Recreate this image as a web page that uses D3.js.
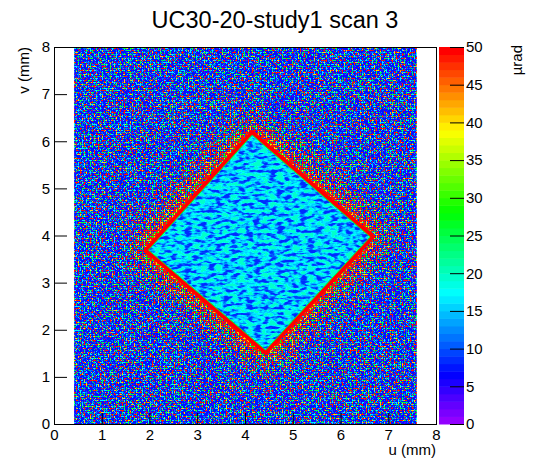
<!DOCTYPE html>
<html>
<head>
<meta charset="utf-8">
<script src="https://cdn.jsdelivr.net/npm/d3@7"></script>
<style>
    body { margin: 0; background: #fff; }
    text { font-family: "Liberation Sans", Arial, Helvetica, sans-serif; fill: #000; }
</style>
</head>
<body>
<svg id="chart" width="546" height="472"></svg>
<script>
// values
var title = 'UC30-20-study1 scan 3';
var uRange = [0, 8],
    vRange = [0, 8],
    zRange = [0, 50];
var uTicks = [0, 1, 2, 3, 4, 5, 6, 7, 8];
var vTicks = [0, 1, 2, 3, 4, 5, 6, 7, 8];
var zTicks = [0, 5, 10, 15, 20, 25, 30, 35, 40, 45, 50];
var nContours = 50;

// active sensor area (mm)
var sensorU = [0.42, 7.6],
    sensorV = [0, 8];

// diamond window corners (mm): top, right, bottom, left
var diamondU = [4.15, 6.62, 4.43, 1.98];
var diamondV = [6.13, 3.97, 1.57, 3.69];

// typical values in each region (µrad)
var backgroundLevel = 7;
var backgroundSpeckle = [3, 11, 16, 25, 40, 48];
var interiorLevels = [8, 9, 10, 12, 14, 15, 16, 17, 19];
var haloLevels = [48, 28, 40];
var rimLevel = 49,
    edgeLevel = 26;

var W = 546, H = 472,
    frame = { left: 54, right: 436, top: 47, bottom: 424 },
    bar = { left: 439, right: 464 };

var svg = d3.select('#chart');

var x = d3.scaleLinear().domain(uRange).range([frame.left, frame.right]),
    y = d3.scaleLinear().domain(vRange).range([frame.bottom, frame.top]),
    z = d3.scaleLinear().domain(zRange).range([frame.bottom, frame.top]);

// ROOT "pretty" palette: 50 hues from violet to red
function paletteColor(value) {
    var i = Math.floor((value - zRange[0]) / (zRange[1] - zRange[0]) * nContours);
    i = Math.max(0, Math.min(nContours - 1, i));
    return d3.hsl(280 - (i + 1) * 280 / nContours, 1, 0.5).rgb();
}

function rgbRow(c) {
    return [(c.r / 255).toFixed(3), (c.g / 255).toFixed(3), (c.b / 255).toFixed(3)];
}

// colour matrix that paints colour c where channel ch of the input is above cut
function thresholdMatrix(c, ch, cut) {
    var v = rgbRow(c),
        K = 40,
        a = [0, 0, 0];
    a[ch] = K;
    return '0 0 0 0 ' + v[0] + ' 0 0 0 0 ' + v[1] + ' 0 0 0 0 ' + v[2] + ' ' +
        a.join(' ') + ' 0 ' + (-K * cut).toFixed(3);
}

var opaque = '1 0 0 0 0 0 1 0 0 0 0 0 1 0 0 0 0 0 0 1';
var defs = svg.append('defs');

var sensorBox = {
    x: x(sensorU[0]),
    y: y(sensorV[1]),
    w: x(sensorU[1]) - x(sensorU[0]),
    h: y(sensorV[0]) - y(sensorV[1])
};
defs.append('clipPath').attr('id', 'sensorClip')
    .append('rect')
    .attr('x', sensorBox.x).attr('y', sensorBox.y)
    .attr('width', sensorBox.w).attr('height', sensorBox.h);

// speckle texture of the background (style only)
var bgCover = [0.6, 0.6, 0.61, 0.64, 0.69, 0.625];
var bgF = defs.append('filter').attr('id', 'bgSpeckle')
    .attr('x', 0).attr('y', 0).attr('width', 1).attr('height', 1)
    .attr('color-interpolation-filters', 'sRGB');
bgF.append('feTurbulence').attr('type', 'fractalNoise').attr('baseFrequency', 0.5)
    .attr('numOctaves', 1).attr('seed', 7).attr('result', 'nA');
bgF.append('feTurbulence').attr('type', 'fractalNoise').attr('baseFrequency', 0.5)
    .attr('numOctaves', 1).attr('seed', 23).attr('result', 'nB');
['nA', 'nB'].forEach(function(n) {
    bgF.append('feColorMatrix').attr('in', n).attr('type', 'matrix')
        .attr('values', opaque).attr('result', 'o' + n);
});
backgroundSpeckle.forEach(function(level, k) {
    bgF.append('feColorMatrix').attr('in', k < 3 ? 'onA' : 'onB').attr('type', 'matrix')
        .attr('values', thresholdMatrix(paletteColor(level), k % 3, bgCover[k]))
        .attr('result', 's' + k);
});
var bgMerge = bgF.append('feMerge');
bgMerge.append('feMergeNode').attr('in', 'SourceGraphic');
[0, 1, 2, 3, 5, 4].forEach(function(k) { bgMerge.append('feMergeNode').attr('in', 's' + k); });
bgF.append('feComposite').attr('in2', 'SourceGraphic').attr('operator', 'in');

// blobby texture inside the diamond
var inF = defs.append('filter').attr('id', 'interiorTex')
    .attr('x', 0).attr('y', 0).attr('width', 1).attr('height', 1)
    .attr('color-interpolation-filters', 'sRGB');
inF.append('feTurbulence').attr('type', 'fractalNoise').attr('baseFrequency', '0.13 0.3')
    .attr('numOctaves', 2).attr('seed', 4).attr('result', 'n');
inF.append('feColorMatrix').attr('in', 'n').attr('type', 'matrix')
    .attr('values', '2.8 0 0 0 -0.82 2.8 0 0 0 -0.82 2.8 0 0 0 -0.82 0 0 0 0 1').attr('result', 'g');
var table = interiorLevels.map(paletteColor);
var ct = inF.append('feComponentTransfer').attr('in', 'g').attr('result', 'tex');
['R', 'G', 'B'].forEach(function(ch, j) {
    ct.append('feFunc' + ch).attr('type', 'discrete')
        .attr('tableValues', table.map(function(c) { return rgbRow(c)[j]; }).join(' '));
});
inF.append('feComposite').attr('in', 'tex').attr('in2', 'SourceGraphic').attr('operator', 'in');

// speckle halo round the window
var hF = defs.append('filter').attr('id', 'halo')
    .attr('x', -0.25).attr('y', -0.25).attr('width', 1.5).attr('height', 1.5)
    .attr('color-interpolation-filters', 'sRGB');
hF.append('feGaussianBlur').attr('in', 'SourceAlpha').attr('stdDeviation', 14).attr('result', 'b');
hF.append('feColorMatrix').attr('in', 'b').attr('type', 'matrix')
    .attr('values', '0 0 0 1 0 0 0 0 1 0 0 0 0 1 0 0 0 0 0 1').attr('result', 'bg');
hF.append('feTurbulence').attr('type', 'fractalNoise').attr('baseFrequency', 0.5)
    .attr('numOctaves', 1).attr('seed', 41).attr('result', 'n');
hF.append('feColorMatrix').attr('in', 'n').attr('type', 'matrix')
    .attr('values', opaque).attr('result', 'on');
hF.append('feComposite').attr('in', 'on').attr('in2', 'bg').attr('operator', 'arithmetic')
    .attr('k1', 0).attr('k2', 1).attr('k3', 0.34).attr('k4', 0).attr('result', 'm');
var haloCut = [0.72, 0.76, 0.79];
haloLevels.forEach(function(level, k) {
    hF.append('feColorMatrix').attr('in', 'm').attr('type', 'matrix')
        .attr('values', thresholdMatrix(paletteColor(level), k, haloCut[k]))
        .attr('result', 'h' + k);
});
var hMerge = hF.append('feMerge');
hMerge.append('feMergeNode').attr('in', 'h1');
hMerge.append('feMergeNode').attr('in', 'h2');
hMerge.append('feMergeNode').attr('in', 'h0');

// the histogram
var plot = svg.append('g');

plot.append('rect')
    .attr('x', sensorBox.x)
    .attr('y', sensorBox.y)
    .attr('width', sensorBox.w)
    .attr('height', sensorBox.h)
    .style('fill', paletteColor(backgroundLevel))
    .attr('filter', 'url(#bgSpeckle)');

var corners = diamondU.map(function(u, i) { return [x(u), y(diamondV[i])]; });
var outline = d3.line().curve(d3.curveLinearClosed);

plot.append('g')
    .attr('clip-path', 'url(#sensorClip)')
    .append('path')
    .attr('d', outline(corners))
    .style('fill', 'none')
    .style('stroke', '#000')
    .style('stroke-width', 30)
    .attr('filter', 'url(#halo)');

plot.append('path')
    .attr('d', outline(corners))
    .style('fill', 'none')
    .style('stroke', paletteColor(rimLevel))
    .style('stroke-width', 8)
    .style('stroke-linejoin', 'miter');

plot.append('path')
    .attr('d', outline(corners))
    .style('fill', paletteColor(interiorLevels[4]))
    .attr('filter', 'url(#interiorTex)');

plot.append('path')
    .attr('d', outline(corners))
    .style('fill', 'none')
    .style('stroke', paletteColor(edgeLevel))
    .style('stroke-width', 1);

// palette
var bins = d3.range(nContours).map(function(i) {
    var step = (zRange[1] - zRange[0]) / nContours;
    return [zRange[0] + i * step, zRange[0] + (i + 1) * step];
});
svg.append('g').selectAll('rect')
    .data(bins)
    .enter().append('rect')
    .attr('x', bar.left)
    .attr('width', bar.right - bar.left)
    .attr('y', function(d) { return z(d[1]); })
    .attr('height', function(d) { return z(d[0]) - z(d[1]) + 0.5; })
    .style('fill', function(d) { return paletteColor((d[0] + d[1]) / 2); })
    .style('stroke', 'none');

// axes
function minorTicks(ticks) {
    var out = [];
    for (var i = 0; i < ticks.length - 1; i++) {
        for (var j = 1; j < 5; j++) out.push(ticks[i] + j * (ticks[i + 1] - ticks[i]) / 5);
    }
    return out;
}

var xAxis = svg.append('g').attr('transform', 'translate(0,' + frame.bottom + ')');
xAxis.call(d3.axisBottom(x).tickValues(minorTicks(uTicks)).tickSize(-6).tickFormat(''));
xAxis.call(d3.axisBottom(x).tickValues(uTicks).tickSize(-11).tickPadding(6).tickFormat(d3.format('d')));

var yAxis = svg.append('g').attr('transform', 'translate(' + frame.left + ',0)');
yAxis.call(d3.axisLeft(y).tickValues(minorTicks(vTicks)).tickSize(-7).tickFormat(''));
yAxis.call(d3.axisLeft(y).tickValues(vTicks).tickSize(-13).tickPadding(4).tickFormat(d3.format('d')));

var zAxis = svg.append('g').attr('transform', 'translate(' + bar.right + ',0)');
zAxis.call(d3.axisRight(z).tickValues(zTicks).tickSize(-14).tickPadding(2).tickFormat(d3.format('d')));

svg.selectAll('.domain').remove();
svg.selectAll('.tick line').style('stroke', '#000').style('stroke-width', 1);
svg.selectAll('.tick text')
    .style('font-size', '15px')
    .style('font-family', '"Liberation Sans", Arial, sans-serif');
xAxis.selectAll('.tick text').attr('y', 5).attr('dy', '0.72em');
zAxis.selectAll('.tick text').attr('x', 2);

// frame
svg.append('rect')
    .attr('x', frame.left + 0.5)
    .attr('y', frame.top + 0.5)
    .attr('width', frame.right - frame.left)
    .attr('height', frame.bottom - frame.top)
    .style('fill', 'none')
    .style('stroke', '#000')
    .style('stroke-width', 1);

// titles
svg.append('text')
    .attr('x', W / 2 + 2)
    .attr('y', 28)
    .attr('text-anchor', 'middle')
    .style('font-size', '23.5px')
    .text(title);

svg.append('text')
    .attr('x', frame.right)
    .attr('y', 455)
    .attr('text-anchor', 'end')
    .style('font-size', '15px')
    .text('u (mm)');

svg.append('text')
    .attr('transform', 'translate(29,' + frame.top + ') rotate(-90)')
    .attr('text-anchor', 'end')
    .style('font-size', '15px')
    .text('v (mm)');

svg.append('text')
    .attr('transform', 'translate(522,' + (frame.top - 2) + ') rotate(-90)')
    .attr('text-anchor', 'end')
    .style('font-size', '15px')
    .text('µrad');
</script>
</body>
</html>
